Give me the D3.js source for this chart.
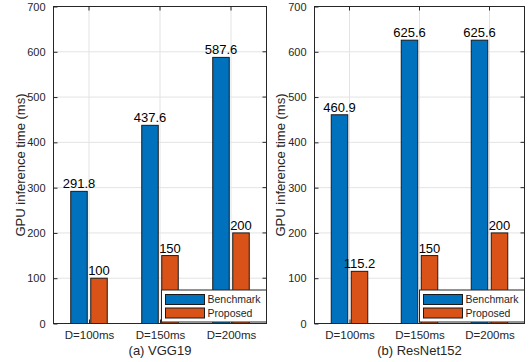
<!DOCTYPE html>
<html>
<head>
<meta charset="utf-8">
<script src="https://cdn.jsdelivr.net/npm/d3@7/dist/d3.min.js"></script>
<style>
  body { margin: 0; background: #fff; }
  svg { display: block; font-family: "Liberation Sans", Arial, sans-serif; }
</style>
</head>
<body>
<svg id="chart" width="531" height="362"></svg>
<script>
const CATEGORIES = ['D=100ms', 'D=150ms', 'D=200ms'];
const SERIES = ['Benchmark', 'Proposed'];
const VGG_BENCH = [291.8, 437.6, 587.6];
const VGG_PROP = [100, 150, 200];
const RES_BENCH = [460.9, 625.6, 625.6];
const RES_PROP = [115.2, 150, 200];
const Y_TICKS = [0, 100, 200, 300, 400, 500, 600, 700];
const CAPTIONS = ['(a) VGG19', '(b) ResNet152'];
const COLORS = ['#0072BD', '#D95319'];

const svg = d3.select('#chart');
const axisColor = '#262626';

const panels = [
  { left: 53.5, right: 266.5, bench: VGG_BENCH, prop: VGG_PROP, caption: CAPTIONS[0], labelX: 20 },
  { left: 314.5, right: 524.5, bench: RES_BENCH, prop: RES_PROP, caption: CAPTIONS[1], labelX: 280 }
];
const plotTop = 6.5, plotBottom = 323.5;

panels.forEach(p => {
  const g = svg.append('g');
  const x = d3.scaleLinear().domain([0.5, 3.5]).range([p.left, p.right]);
  const y = d3.scaleLinear().domain([0, 700]).range([plotBottom, plotTop]);

  // grid
  Y_TICKS.forEach(t => {
    g.append('line').attr('x1', p.left).attr('x2', p.right)
      .attr('y1', y(t)).attr('y2', y(t))
      .attr('stroke', '#e3e3e3').attr('stroke-width', 1);
  });
  CATEGORIES.forEach((c, i) => {
    g.append('line').attr('x1', x(i + 1)).attr('x2', x(i + 1))
      .attr('y1', plotTop).attr('y2', plotBottom)
      .attr('stroke', '#e3e3e3').attr('stroke-width', 1);
  });

  // bars
  const bw = 16.5, off = 10;
  [p.bench, p.prop].forEach((vals, s) => {
    vals.forEach((v, i) => {
      const cx = x(i + 1) + (s === 0 ? -off : off);
      g.append('rect')
        .attr('x', cx - bw / 2).attr('y', y(v))
        .attr('width', bw).attr('height', y(0) - y(v))
        .attr('fill', COLORS[s]).attr('stroke', '#1a1a1a').attr('stroke-width', 1);
      g.append('text')
        .attr('x', cx).attr('y', y(v) - 3)
        .attr('text-anchor', 'middle')
        .attr('font-size', '13px').attr('fill', '#000')
        .text(v);
    });
  });

  // box
  g.append('rect').attr('x', p.left).attr('y', plotTop)
    .attr('width', p.right - p.left).attr('height', plotBottom - plotTop)
    .attr('fill', 'none').attr('stroke', axisColor).attr('stroke-width', 1);

  // y axis
  const yAxis = d3.axisLeft(y).tickValues(Y_TICKS).tickSizeInner(-4).tickSizeOuter(0).tickPadding(8);
  g.append('g').attr('transform', `translate(${p.left},0)`).call(yAxis)
    .call(a => a.select('.domain').remove())
    .call(a => a.selectAll('line').attr('stroke', axisColor))
    .call(a => a.selectAll('text').attr('fill', axisColor).attr('font-size', '11px')
      .attr('font-family', '"Liberation Sans", Arial, sans-serif'));
  Y_TICKS.forEach(t => {
    g.append('line').attr('x1', p.right).attr('x2', p.right - 4)
      .attr('y1', y(t)).attr('y2', y(t)).attr('stroke', axisColor);
  });

  // x axis
  const xAxis = d3.axisBottom(x).tickValues([1, 2, 3]).tickFormat((d, i) => CATEGORIES[i])
    .tickSizeInner(-4).tickSizeOuter(0).tickPadding(7);
  g.append('g').attr('transform', `translate(0,${plotBottom})`).call(xAxis)
    .call(a => a.select('.domain').remove())
    .call(a => a.selectAll('line').attr('stroke', axisColor))
    .call(a => a.selectAll('text').attr('fill', axisColor).attr('font-size', '11.5px')
      .attr('font-family', '"Liberation Sans", Arial, sans-serif'));
  [1, 2, 3].forEach(t => {
    g.append('line').attr('x1', x(t)).attr('x2', x(t))
      .attr('y1', plotTop).attr('y2', plotTop + 4).attr('stroke', axisColor);
  });

  // caption
  g.append('text').attr('x', (p.left + p.right) / 2).attr('y', 355)
    .attr('text-anchor', 'middle').attr('font-size', '13px').attr('fill', axisColor)
    .text(p.caption);

  // y label
  g.append('text')
    .attr('transform', `translate(${p.labelX},${(plotTop + plotBottom) / 2}) rotate(-90)`)
    .attr('text-anchor', 'middle').attr('dy', '0.35em')
    .attr('font-size', '13px').attr('fill', axisColor)
    .text('GPU inference time (ms)');

  // legend
  const lw = 105, lh = 32;
  const lx = p.right - lw, ly = 290;
  const lg = g.append('g').attr('transform', `translate(${lx},${ly})`);
  lg.append('rect').attr('x', 0).attr('y', 0).attr('width', lw).attr('height', lh)
    .attr('fill', '#fff').attr('stroke', axisColor).attr('stroke-width', 1);
  SERIES.forEach((s, i) => {
    lg.append('rect').attr('x', 4).attr('y', 4.5 + i * 13.5).attr('width', 39).attr('height', 10)
      .attr('fill', COLORS[i]).attr('stroke', '#1a1a1a');
    lg.append('text').attr('x', 46).attr('y', 9.5 + i * 13.5).attr('dy', '0.35em')
      .attr('font-size', '10.5px').attr('fill', axisColor).text(s);
  });
});
</script>
</body>
</html>
